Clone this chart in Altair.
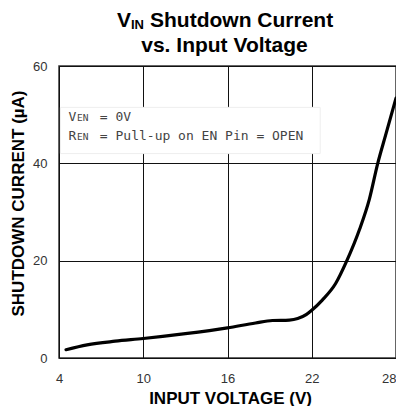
import altair as alt
import pandas as pd

# ---- data ----
voltage = [4.5, 6.0, 8.0, 10.0, 13.0, 16.0, 18.0, 19.2, 20.4, 21.0, 21.6, 22.0,
           22.75, 23.7, 24.5, 25.4, 26.1, 26.7, 27.25, 28.0]
current = [1.7, 2.7, 3.45, 4.0, 5.0, 6.2, 7.2, 7.7, 7.8, 8.1, 8.9, 9.8,
           11.9, 15.3, 20.0, 26.4, 32.6, 40.0, 45.7, 53.4]
x_ticks = [4, 10, 16, 22, 28]
y_ticks = [0, 20, 40, 60]

box_x = [4.1, 22.6]
box_y = [42.0, 51.5]
note_x = [4.68, 4.68]
note_y = [48.6, 44.8]
note_main = ["V", "R"]
note_sub = ["EN", "EN"]
note_rest = ["= 0V", "= Pull-up on EN Pin = OPEN"]

title_line1 = ["V", "IN", "Shutdown Current"]
title_line2 = "vs. Input Voltage"

FONT = "Liberation Sans"
MONO = "DejaVu Sans Mono"

curve_df = pd.DataFrame({"V": voltage, "I": current})
box_df = pd.DataFrame({"V": [box_x[0]], "V2": [box_x[1]], "I": [box_y[0]], "I2": [box_y[1]]})
note_df = pd.DataFrame({"V": note_x, "I": note_y, "main": note_main,
                        "sub": note_sub, "rest": note_rest})

x_axis = alt.Axis(
    values=x_ticks, grid=True, gridColor="#111", gridWidth=1, domain=False, ticks=False,
    labelFont=FONT, labelFontSize=13, labelColor="#333", labelPadding=14,
    labelAlign={"condition": {"test": "datum.value == 28", "value": "right"}, "value": "center"},
    title="INPUT VOLTAGE (V)", titleFont=FONT, titleFontSize=17, titleFontWeight="bold",
    titleColor="black", titleX=171, titleY=45, titleAlign="center", titleBaseline="alphabetic",
)
y_axis = alt.Axis(
    values=y_ticks, grid=True, gridColor="#111", gridWidth=1, domain=False, ticks=False,
    labelFont=FONT, labelFontSize=13, labelColor="#333", labelPadding=12,
    title="SHUTDOWN CURRENT (µA)", titleFont=FONT, titleFontSize=17, titleFontWeight="bold",
    titleColor="black", titleX=-36, titleY=137, titleAngle=270, titleAlign="center",
    titleBaseline="alphabetic",
)

xs = alt.Scale(domain=[4, 28], nice=False, zero=False)
ys = alt.Scale(domain=[0, 60], nice=False)

line = alt.Chart(curve_df).mark_line(
    color="black", strokeWidth=3.2, interpolate="monotone", strokeCap="round"
).encode(
    x=alt.X("V:Q", scale=xs, axis=x_axis),
    y=alt.Y("I:Q", scale=ys, axis=y_axis),
)

box = alt.Chart(box_df).mark_rect(fill="white", stroke="#eeeeee", strokeWidth=1).encode(
    x="V:Q", x2="V2:Q", y="I:Q", y2="I2:Q"
)

note_main_m = alt.Chart(note_df).mark_text(
    font=MONO, fontSize=13, color="#444", align="left", baseline="alphabetic"
).encode(x="V:Q", y="I:Q", text="main:N")
note_sub_m = alt.Chart(note_df).mark_text(
    font=MONO, fontSize=9.5, color="#444", align="left", baseline="alphabetic", dx=8.5
).encode(x="V:Q", y="I:Q", text="sub:N")
note_rest_m = alt.Chart(note_df).mark_text(
    font=MONO, fontSize=13, color="#444", align="left", baseline="alphabetic", dx=31.3
).encode(x="V:Q", y="I:Q", text="rest:N")

t1 = pd.DataFrame({"t": [title_line1[0]]})
t1s = pd.DataFrame({"t": [title_line1[1]]})
t1r = pd.DataFrame({"t": [title_line1[2]]})
t2 = pd.DataFrame({"t": [title_line2]})

title_v = alt.Chart(t1).mark_text(
    font=FONT, fontSize=21, fontWeight="bold", color="black", align="left", baseline="alphabetic"
).encode(x=alt.value(58), y=alt.value(-39.5), text="t:N")
title_in = alt.Chart(t1s).mark_text(
    font=FONT, fontSize=13, fontWeight="bold", color="black", align="left", baseline="alphabetic"
).encode(x=alt.value(72), y=alt.value(-36.8), text="t:N")
title_rest = alt.Chart(t1r).mark_text(
    font=FONT, fontSize=21, fontWeight="bold", color="black", align="left", baseline="alphabetic"
).encode(x=alt.value(91), y=alt.value(-39.5), text="t:N")
title_2 = alt.Chart(t2).mark_text(
    font=FONT, fontSize=21, fontWeight="bold", color="black", align="center", baseline="alphabetic"
).encode(x=alt.value(165.5), y=alt.value(-14), text="t:N")

chart = alt.layer(
    line, box, note_main_m, note_sub_m, note_rest_m, title_v, title_in, title_rest, title_2
).properties(
    width=337, height=292,
    autosize=alt.AutoSizeParams(type="none"),
    padding={"left": 51, "top": 58, "right": 0, "bottom": 48},
    background="white",
).configure_view(stroke="#333", strokeWidth=1.5)

chart.save("out.html", embed_options={"renderer": "svg", "actions": False})
